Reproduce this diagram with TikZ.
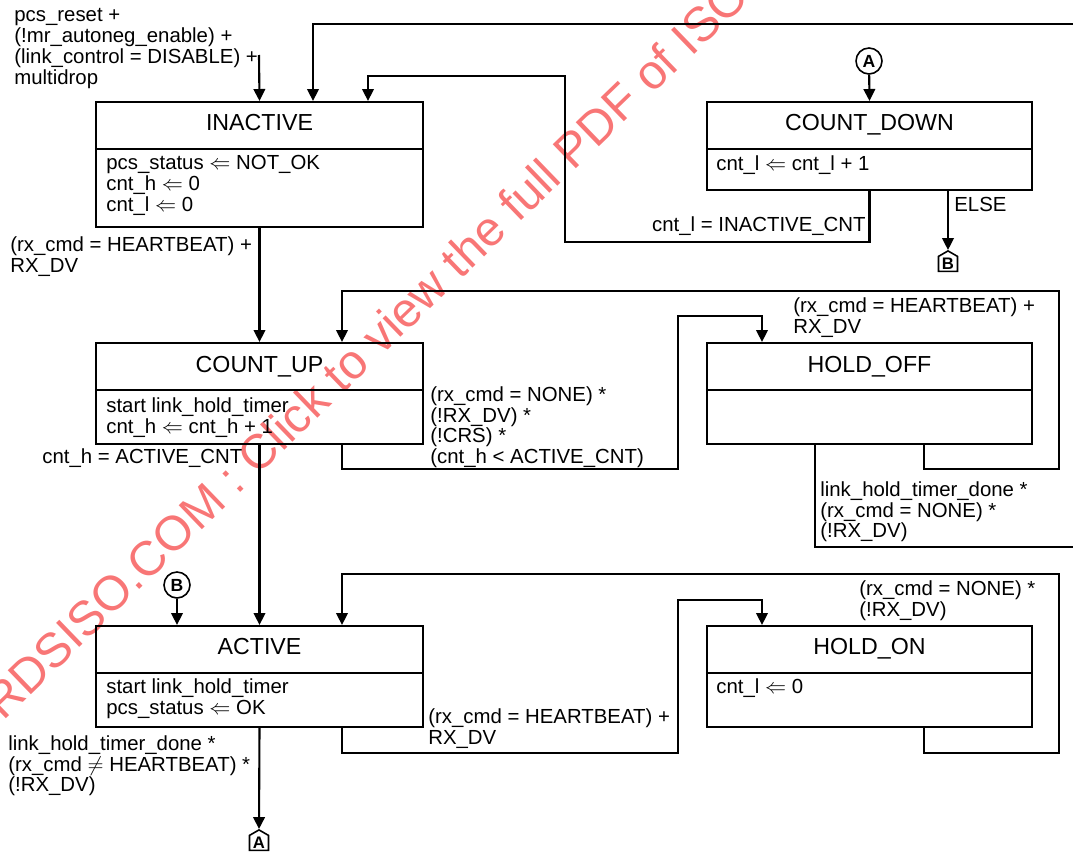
\documentclass[tikz,border=0pt]{standalone}
\usepackage{fontspec}
\setmainfont{Liberation Sans}
\usetikzlibrary{arrows.meta,shapes.symbols}
\definecolor{wmred}{RGB}{248,118,118}

\begin{document}
\begin{tikzpicture}[
  x=0.02cm,y=-0.02cm,
  state/.style={draw,line width=1.2pt,inner sep=0pt,minimum width=6.54cm},
  title/.style={anchor=base,inner sep=0pt,font=\fontsize{13.2}{15}\selectfont},
  body/.style={anchor=north west,align=left,inner sep=0pt,font=\fontsize{11.6}{11.9}\selectfont},
  rule/.style={line width=1.2pt},
  arr/.style={-{Triangle[length=6.8pt,width=6.6pt]},line width=1.2pt},
  line/.style={line width=1.2pt},
  conn/.style={draw,circle,line width=0.9pt,minimum size=0.52cm,inner sep=0pt,
    font=\fontsize{10}{10}\selectfont\bfseries},
  offpage/.style={draw,line width=0.9pt,shape=signal,signal to=north,signal pointer angle=120,
    inner sep=1pt,minimum width=0.38cm,minimum height=0.38cm,font=\fontsize{9.5}{10}\selectfont\bfseries},
  watermark/.style={text=wmred,inner sep=0pt,font=\fontsize{27.6}{28}\selectfont}]
\useasboundingbox (0,0) rectangle (1073,852);
\clip (0,0) rectangle (1073,852);

\node[watermark,rotate=44,anchor=base west] (wm) at (3,722) {RDSISO.COM : Click to view the full PDF of ISO};

\node[state,minimum height=2.5cm] (inactive) at (259.5,164.5) {};
\node[state,minimum width=6.5cm,minimum height=1.76cm] (countdown) at (869.5,146) {};
\node[state,minimum height=2.02cm] (countup) at (259.5,393.5) {};
\node[state,minimum width=6.5cm,minimum height=2.02cm] (holdoff) at (869.5,393.5) {};
\node[state,minimum height=2.02cm] (active) at (259.5,676.5) {};
\node[state,minimum width=6.5cm,minimum height=2.02cm] (holdon) at (869.5,676.5) {};

\draw[rule] (inactive.west |- 0,149) -- (inactive.east |- 0,149);
\draw[rule] (countdown.west |- 0,149) -- (countdown.east |- 0,149);
\draw[rule] (countup.west |- 0,390) -- (countup.east |- 0,390);
\draw[rule] (holdoff.west |- 0,390) -- (holdoff.east |- 0,390);
\draw[rule] (active.west |- 0,673) -- (active.east |- 0,673);
\draw[rule] (holdon.west |- 0,673) -- (holdon.east |- 0,673);

\node[title] (inactivet) at (259.5,130) {INACTIVE};
\node[title] (countdownt) at (869.5,130) {COUNT\_DOWN};
\node[title] (countupt) at (259.5,372) {COUNT\_UP};
\node[title] (holdofft) at (869.5,372) {HOLD\_OFF};
\node[title] (activet) at (259.5,654) {ACTIVE};
\node[title] (holdont) at (869.5,654) {HOLD\_ON};

\node[body] (inactiveb) at (106,155) {pcs\_status $\Leftarrow$ NOT\_OK\\cnt\_h $\Leftarrow$ 0\\cnt\_l $\Leftarrow$ 0};
\node[body] (countdownb) at (716,155) {cnt\_l $\Leftarrow$ cnt\_l + 1};
\node[body] (countupb) at (106,397) {start link\_hold\_timer\\cnt\_h $\Leftarrow$ cnt\_h + 1};
\node[body] (activeb) at (106,678) {start link\_hold\_timer\\pcs\_status $\Leftarrow$ OK};
\node[body] (holdonb) at (716,678) {cnt\_l $\Leftarrow$ 0};

\node[conn] (ina) at (869,61) {A};
\node[conn] (inb) at (177,585) {B};
\node[offpage,anchor=north] (offb) at (948,250) {B};
\node[offpage,anchor=north] (offa) at (259,829) {A};

\coordinate (reset) at (259,55);
\coordinate (offtop) at (1073,24);
\coordinate (offmid) at (1073,547);

\draw[arr] (reset) -- (inactive.north);
\draw[arr] (offtop) -| (313,0 |- inactive.north);
\draw[arr] (countdown.south) |- (565,242) |- (368,76) -- (368,0 |- inactive.north);
\draw[arr] (ina) -- (countdown.north);
\draw[arr] (948,0 |- countdown.south) -- (offb.north);
\draw[arr] (inactive.south) -- (countup.north);
\draw[arr] (342,0 |- countup.south) |- (678,469) |- (762,316) -- (762,0 |- holdoff.north);
\draw[arr] (924,0 |- holdoff.south) |- (1059,469) |- (342,291) -- (342,0 |- countup.north);
\draw[line] (815,0 |- holdoff.south) |- (offmid);
\draw[arr] (countup.south) -- (active.north);
\draw[arr] (inb) -- (177,0 |- active.north);
\draw[arr] (342,0 |- active.south) |- (678,753) |- (762,600) -- (762,0 |- holdon.north);
\draw[arr] (924,0 |- holdon.south) |- (1059,753) |- (342,574) -- (342,0 |- active.north);
\draw[arr] (active.south) -- (offa.north);

\node[body] (lreset) at (14,8) {pcs\_reset +\\(!mr\_autoneg\_enable) +\\(link\_control = DISABLE) +\\multidrop};
\node[body] (lheart) at (10,236) {(rx\_cmd = HEARTBEAT) +\\RX\_DV};
\node[body,anchor=north east] (linact) at (866,216) {cnt\_l = INACTIVE\_CNT};
\node[body] (lelse) at (954,197) {ELSE};
\node[body] (lactcnt) at (42,448) {cnt\_h = ACTIVE\_CNT};
\node[body] (lnone) at (430,386) {(rx\_cmd = NONE) *\\(!RX\_DV) *\\(!CRS) *\\(cnt\_h < ACTIVE\_CNT)};
\node[body] (lheartoff) at (793,297) {(rx\_cmd = HEARTBEAT) +\\RX\_DV};
\node[body] (ldoneoff) at (820,481) {link\_hold\_timer\_done *\\(rx\_cmd = NONE) *\\(!RX\_DV)};
\node[body] (lnoneon) at (859,580) {(rx\_cmd = NONE) *\\(!RX\_DV)};
\node[body] (lhearton) at (428,708) {(rx\_cmd = HEARTBEAT) +\\RX\_DV};
\node[body] (ldoneact) at (8,735) {link\_hold\_timer\_done *\\(rx\_cmd $\neq$ HEARTBEAT) *\\(!RX\_DV)};
\end{tikzpicture}
\end{document}
